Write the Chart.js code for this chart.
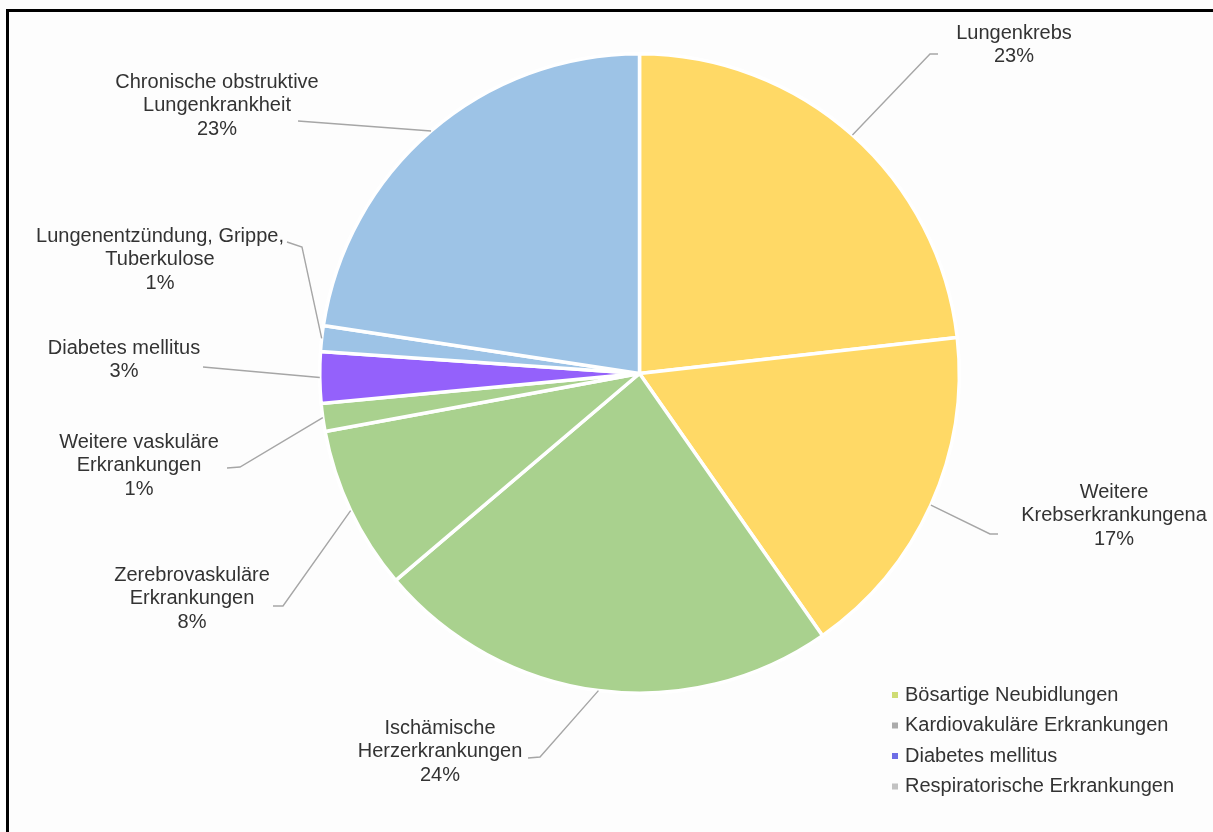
<!DOCTYPE html>
<html lang="de">
<head>
<meta charset="utf-8">
<title>Todesursachen Rauchen</title>
<script src="https://cdn.jsdelivr.net/npm/chart.js@4.4.1/dist/chart.umd.min.js"></script>
<style>
  html, body { margin: 0; padding: 0; background: #fdfdfd; }
  #wrap { position: relative; width: 1213px; height: 832px; }
</style>
</head>
<body>
<div id="wrap"><canvas id="pie" width="1213" height="832"></canvas></div>
<script>
// slices, clockwise from 12 o'clock
const categories = [
  'Lungenkrebs',
  'Weitere Krebserkrankungena',
  'Ischämische Herzerkrankungen',
  'Zerebrovaskuläre Erkrankungen',
  'Weitere vaskuläre Erkrankungen',
  'Diabetes mellitus',
  'Lungenentzündung, Grippe, Tuberkulose',
  'Chronische obstruktive Lungenkrankheit'
];
const shares = [23.2, 17.1, 23.5, 8.3, 1.4, 2.6, 1.3, 22.6];
const sliceColors = ['#ffd966', '#ffd966', '#a9d18e', '#a9d18e', '#a9d18e', '#9461fb', '#9dc3e6', '#9dc3e6'];

// how each data label is broken into lines
const labelLines = [
  ['Lungenkrebs'],
  ['Weitere', 'Krebserkrankungena'],
  ['Ischämische', 'Herzerkrankungen'],
  ['Zerebrovaskuläre', 'Erkrankungen'],
  ['Weitere vaskuläre', 'Erkrankungen'],
  ['Diabetes mellitus'],
  ['Lungenentzündung, Grippe,', 'Tuberkulose'],
  ['Chronische obstruktive', 'Lungenkrankheit']
];

const legendGroups = ['Bösartige Neubidlungen', 'Kardiovakuläre Erkrankungen', 'Diabetes mellitus', 'Respiratorische Erkrankungen'];
const legendColors = ['#cfdc74', '#ababab', '#6d6de6', '#c2c2c2'];

// label placement: text centre of the first line and leader-line bend points
const labelLayout = [
  { x: 1014, y: 33,  path: [[930, 54], [938, 54]] },
  { x: 1114, y: 492, path: [[990, 534], [998, 534]] },
  { x: 440,  y: 728, path: [[540, 757], [528, 758]] },
  { x: 192,  y: 575, path: [[283, 606], [273, 606]] },
  { x: 139,  y: 442, path: [[240, 467], [227, 468]] },
  { x: 124,  y: 348, path: [[203, 367]] },
  { x: 160,  y: 236, path: [[302, 247], [287, 242]] },
  { x: 217,  y: 82,  path: [[298, 121]] }
];

const FONT = '20px "Liberation Sans", Arial, sans-serif';
const TEXT_COLOR = '#333333';
const LINE_H = 23.5;

const frameAndLabels = {
  id: 'frameAndLabels',
  afterDatasetsDraw(chart) {
    const ctx = chart.ctx;
    const arcs = chart.getDatasetMeta(0).data;
    ctx.save();
    // leader lines
    ctx.strokeStyle = '#a6a6a6';
    ctx.lineWidth = 1.4;
    arcs.forEach((arc, i) => {
      const p = arc.getProps(['x', 'y', 'startAngle', 'endAngle', 'outerRadius'], true);
      const mid = (p.startAngle + p.endAngle) / 2;
      ctx.beginPath();
      ctx.moveTo(p.x + Math.cos(mid) * p.outerRadius, p.y + Math.sin(mid) * p.outerRadius);
      labelLayout[i].path.forEach(pt => ctx.lineTo(pt[0], pt[1]));
      ctx.stroke();
    });
    // label text
    ctx.font = FONT;
    ctx.fillStyle = TEXT_COLOR;
    ctx.textAlign = 'center';
    ctx.textBaseline = 'middle';
    labelLines.forEach((lines, i) => {
      const all = lines.concat([Math.round(shares[i]) + '%']);
      all.forEach((t, k) => ctx.fillText(t, labelLayout[i].x, labelLayout[i].y + k * LINE_H));
    });
    // legend
    ctx.textAlign = 'left';
    legendGroups.forEach((g, i) => {
      const y = 695 + i * 30.5;
      ctx.fillStyle = legendColors[i];
      ctx.fillRect(892, y - 3, 6, 6);
      ctx.fillStyle = TEXT_COLOR;
      ctx.fillText(g, 905, y);
    });
    // frame: top and left edges only
    ctx.fillStyle = '#000';
    ctx.fillRect(6, 9, 1207, 3);
    ctx.fillRect(6, 9, 3, 823);
    ctx.restore();
  }
};

new Chart(document.getElementById('pie'), {
  type: 'pie',
  data: {
    labels: categories,
    datasets: [{
      data: shares,
      backgroundColor: sliceColors,
      borderColor: '#ffffff',
      borderWidth: 3.5
    }]
  },
  options: {
    responsive: false,
    animation: false,
    layout: { padding: { top: 52, bottom: 137, left: 318, right: 252 } },
    plugins: {
      legend: { display: false },
      tooltip: { enabled: false }
    }
  },
  plugins: [frameAndLabels]
});
</script>
</body>
</html>
